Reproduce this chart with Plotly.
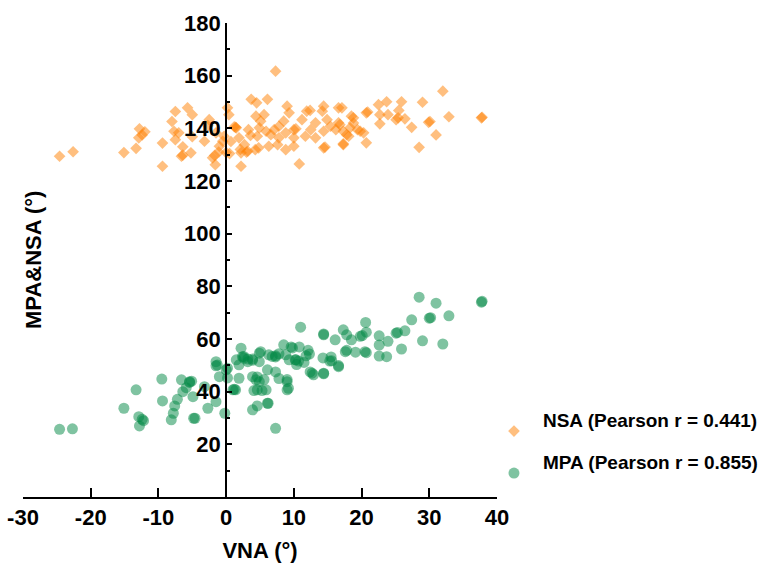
import plotly.graph_objects as go

# NSA (orange diamonds)
nsa_x = [-24.6, -22.6, -15.1, -13.3, -12.8, -12.9, -12.0, -12.4, -9.4, -9.4, -8.0, -7.5, -7.7, -7.0, -7.5,
         -6.4, -6.6, -6.4, -5.7, -5.0, -5.0, -5.2, -3.2, -2.5, -2.7, -1.5, -1.7, -1.6, -1.0, 0.2, 0.4, 1.2,
         1.4, 0.5, 0.7, 2.2, 2.1, 3.0, 3.7, 4.5, 6.1, 5.6, 4.4, 5.1, 4.9, 3.3, 3.6, 4.6, 5.9, 4.8, 4.3, 3.2,
         2.2, 2.7, 1.9, 1.5, 7.3, 9.0, 9.3, 8.5, 7.8, 7.1, 6.6, 7.8, 7.6, 6.3, 8.8, 10.0, 8.8, 10.0, 10.3,
         10.8, 10.0, 11.2, 11.9, 12.4, 13.2, 11.7, 13.2, 12.5, 14.4, 14.2, 14.9, 15.4, 14.4, 14.6, 14.4,
         16.6, 16.6, 16.2, 17.3, 17.8, 18.5, 18.8, 19.4, 17.3, 17.1, 16.8, 18.3, 18.8, 19.8, 20.3, 18.1,
         17.3, 20.7, 20.7, 20.9, 22.5, 22.7, 23.9, 22.7, 23.7, 25.1, 25.4, 25.9, 25.5, 26.4, 27.4, 28.5,
         29.0, 29.9, 30.1, 31.0, 32.0, 32.9, 37.7, 37.8, 0.0, -0.3, -0.5, -2.0, -1.1]
nsa_y = [129.4, 131.1, 130.8, 132.4, 139.8, 136.4, 138.7, 137.5, 134.4, 125.6, 142.6, 146.4, 138.9, 138.3, 135.7,
         133.0, 129.4, 129.8, 147.8, 145.2, 136.8, 130.7, 135.1, 143.3, 141.0, 138.3, 129.7, 126.2, 133.2, 147.8,
         145.2, 140.6, 140.4, 130.4, 135.0, 125.6, 132.0, 131.0, 151.0, 149.7, 151.0, 145.2, 144.6, 142.7,
         140.2, 139.5, 137.3, 137.0, 138.9, 132.6, 131.9, 131.3, 130.7, 133.8, 136.4, 140.2, 161.7, 148.4,
         145.9, 142.7, 140.8, 139.5, 137.6, 136.4, 133.8, 133.2, 131.9, 133.2, 138.3, 139.5, 139.8, 126.5,
         136.4, 143.3, 146.5, 146.8, 142.1, 137.0, 136.4, 139.5, 148.4, 146.5, 143.3, 140.8, 132.6, 132.9,
         138.9, 147.8, 142.1, 139.5, 138.9, 137.6, 144.6, 142.0, 139.5, 133.8, 147.8, 141.4, 140.2, 144.0,
         138.9, 138.3, 137.0, 134.1, 134.5, 145.9, 146.2, 149.0, 145.2, 145.2, 141.7, 150.1, 143.3, 144.0,
         150.1, 146.8, 143.6, 140.4, 132.8, 149.9, 142.3, 142.6, 137.5, 154.1, 144.4, 144.0, 144.2, 130.8,
         137.0, 135.1, 128.8, 131.0]

# MPA (green circles)
mpa_x = [-24.6, -22.7, -15.1, -13.3, -12.9, -12.8, -12.2, -12.4, -9.5, -9.4, -8.1, -7.8, -7.6, -7.2, -6.6,
         -6.4, -5.9, -5.4, -5.1, -4.9, -4.8, -3.2, -2.7, -1.5, -1.3, -1.5, -1.5, -0.2, 0.0, 0.2, 0.2, -1.0,
         1.0, 1.4, 1.2, 1.9, 1.9, 2.2, 2.6, 3.2, 3.9, 4.9, 3.9, 4.6, 4.6, 4.9, 5.9, 4.1, 5.3, 6.1, 7.3, 2.4,
         3.2, 3.9, 1.5, 3.9, 6.3, 7.3, 7.8, 8.8, 10.3, 10.7, 11.5, 12.7, 12.4, 14.4, 15.5, 15.3, 16.6, 17.6,
         6.1, 7.3, 7.8, 9.0, 9.0, 4.4, 5.6, 4.6, 9.2, 9.0, 8.5, 9.6, 10.8, 12.1, 11.0, 14.4, 17.3, 17.8,
         28.5, 31.0, 37.7, 37.8, 30.0, 30.2, 32.9, 27.4, 29.0, 32.0, 26.4, 25.1, 25.3, 25.9, 23.9, 23.7,
         22.6, 22.6, 22.6, 20.6, 20.7, 19.8, 20.1, 18.5, 20.5, 19.1, 17.8, 20.7, 16.1, 14.4, 16.6, 15.6,
         14.4, 12.9, 14.3, 12.3, 11.8, 10.2, 10.4, 9.3, 9.8, 7.3, 6.8, 5.1, 4.9, 2.6, 6.2, -4.6, -5.4]
mpa_y = [25.7, 25.9, 33.7, 40.7, 30.5, 27.0, 29.0, 29.5, 44.8, 36.5, 29.3, 31.8, 34.6, 37.1, 44.5,
         40.0, 41.5, 43.8, 44.0, 38.1, 29.9, 41.9, 33.7, 51.4, 50.1, 49.8, 36.2, 31.8, 48.3, 48.9, 45.2, 45.7,
         40.7, 40.7, 40.9, 45.1, 50.2, 56.5, 53.4, 51.4, 45.7, 54.6, 33.1, 34.6, 40.7, 43.8, 40.7, 40.4, 40.4,
         35.6, 26.1, 53.3, 52.4, 52.4, 52.1, 51.9, 54.0, 53.2, 54.4, 54.0, 52.1, 51.6, 51.1, 47.0, 47.5, 47.0,
         53.2, 51.6, 49.9, 55.2, 48.3, 47.5, 45.0, 43.8, 40.7, 44.5, 44.6, 45.6, 41.3, 44.6, 57.8, 57.0, 57.0,
         55.7, 64.5, 61.6, 63.5, 61.6, 75.9, 73.6, 74.0, 74.3, 67.9, 68.1, 68.8, 67.3, 59.3, 58.1, 63.1, 62.2,
         62.5, 56.2, 59.1, 53.3, 61.2, 57.7, 53.5, 66.3, 62.6, 61.0, 61.3, 59.7, 55.2, 55.0, 55.7, 54.8, 59.7,
         61.9, 49.5, 51.7, 46.8, 46.4, 52.8, 54.3, 53.6, 52.1, 50.3, 52.1, 56.6, 53.6, 53.4, 55.2, 51.4, 52.7,
         35.6, 29.9, 43.5]

x_ticks = [-30, -20, -10, 0, 10, 20, 30, 40]
x_tick_labels = ["-30", "-20", "-10", "0", "10", "20", "30", "40"]
y_ticks = [20, 40, 60, 80, 100, 120, 140, 160, 180]
y_minor = [10, 30, 50, 70, 90, 110, 130, 150, 170]

FONT = "Liberation Sans, Arial, sans-serif"

fig = go.Figure()
fig.add_trace(go.Scatter(
    x=nsa_x, y=nsa_y, mode="markers", legendgroup="nsa",
    name="<span style='font-size:19px'>NSA (Pearson r = 0.441)</span><br> ",
    marker=dict(symbol="diamond", size=9, color="rgb(255,127,0)", opacity=0.5, line=dict(width=0)),
))
fig.add_trace(go.Scatter(
    x=mpa_x, y=mpa_y, mode="markers", legendgroup="mpa",
    name="<span style='font-size:19px'>MPA (Pearson r = 0.855)</span><br> ",
    marker=dict(symbol="circle", size=11, color="rgb(0,136,68)", opacity=0.5, line=dict(width=0)),
))

fig.update_layout(
    width=767, height=563,
    margin=dict(l=23, r=270, t=23, b=66, autoexpand=False),
    paper_bgcolor="white", plot_bgcolor="white",
    font=dict(family=FONT, color="black", weight="bold"),
    xaxis=dict(
        range=[-30, 40], tickmode="array", tickvals=x_ticks, ticktext=x_tick_labels,
        ticks="inside", ticklen=9, tickwidth=2, tickcolor="black",
        showline=True, linewidth=2, linecolor="black",
        showgrid=False, zeroline=False, automargin=False,
        tickfont=dict(size=22, family=FONT, weight="bold"),
        title=dict(text="VNA (°)", font=dict(size=22, family=FONT, weight="bold"), standoff=14),
    ),
    yaxis=dict(
        range=[0, 180], tickmode="array", tickvals=y_ticks,
        ticks="inside", ticklen=5, tickwidth=2, tickcolor="black",
        minor=dict(tickmode="array", tickvals=y_minor, ticks="inside", ticklen=3, tickwidth=2, tickcolor="black"),
        showline=True, linewidth=2, linecolor="black",
        showgrid=False, zeroline=False, automargin=False,
        anchor="free", position=30 / 70,
        tickfont=dict(size=22, family=FONT, weight="bold"),
    ),
    legend=dict(
        xref="container", yref="container",
        x=0.6323, y=0.2805, xanchor="left", yanchor="top",
        itemwidth=48, tracegroupgap=0,
        font=dict(size=15, family=FONT, weight="bold"),
        bgcolor="rgba(0,0,0,0)",
    ),
    showlegend=True,
    annotations=[dict(
        text="MPA&amp;NSA (°)", textangle=-90,
        xref="paper", yref="paper", x=0.021, y=0.5,
        xanchor="center", yanchor="middle", showarrow=False,
        font=dict(size=22, family=FONT, weight="bold"),
    )],
)

fig.write_html("out.html", config={"displayModeBar": False},
               post_script="document.body.style.margin='0px';")
